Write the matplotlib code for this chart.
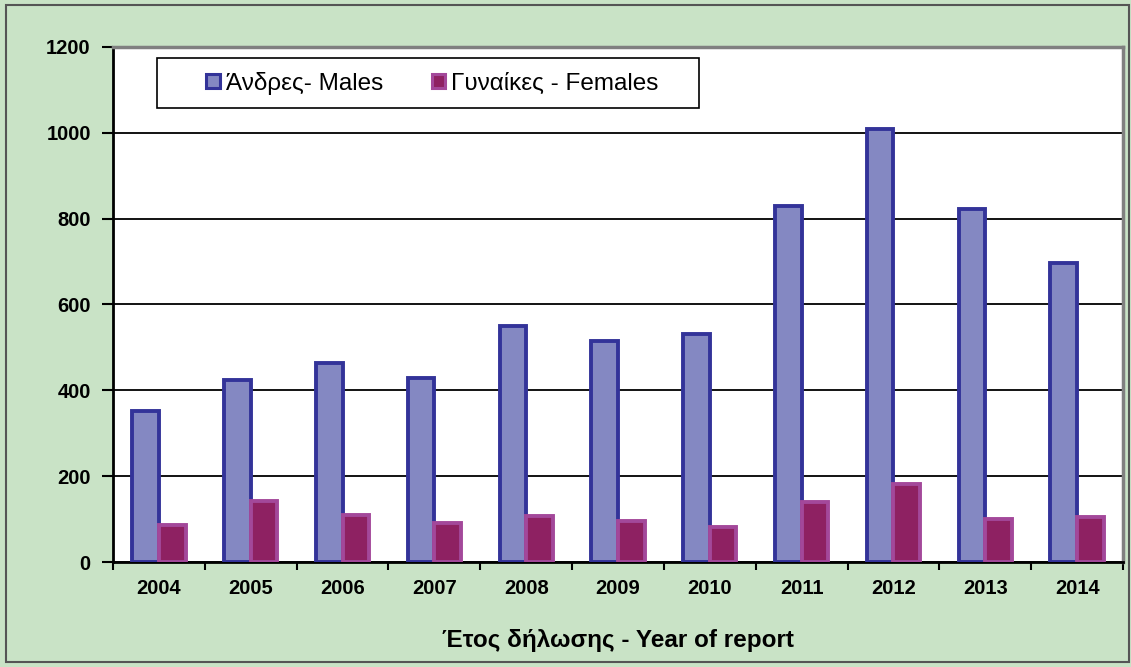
import matplotlib
matplotlib.use("Agg")
import matplotlib.pyplot as plt
import matplotlib.patches as mpatches
import numpy as np

years = ["2004", "2005", "2006", "2007", "2008", "2009", "2010", "2011", "2012", "2013", "2014"]
males = [352, 424, 463, 428, 551, 516, 531, 830, 1009, 822, 696]
females = [87, 141, 110, 92, 107, 95, 81, 139, 181, 101, 106]
series_names = ["Άνδρες- Males", "Γυναίκες - Females"]
x_label = "Έτος δήλωσης - Year of report"
y_ticks = [0, 200, 400, 600, 800, 1000, 1200]

male_fill, male_edge = "#8488C2", "#333399"
fem_fill, fem_edge = "#8E2162", "#A3489A"
bg = "#C9E3C6"

reg = ["Liberation Sans", "DejaVu Sans"]

fig = plt.figure(figsize=(11.31, 6.67), dpi=100, facecolor=bg)
fig.patches.append(mpatches.Rectangle((6/1131, 5/667), 1123/1131, 657/667, transform=fig.transFigure,
                                      facecolor="none", edgecolor="#555555", linewidth=1.5))
ax = fig.add_axes([113/1131, 105/667, 1010/1131, 515/667])
ax.set_facecolor("white")

x = np.arange(len(years))
w = 0.29
ax.bar(x - w/2, males, width=w, color=male_fill, edgecolor=male_edge, linewidth=2.8, zorder=3)
ax.bar(x + w/2, females, width=w, color=fem_fill, edgecolor=fem_edge, linewidth=2.8, zorder=3)

ax.set_xlim(-0.5, len(years) - 0.5)
ax.set_ylim(0, 1200)
ax.set_yticks(y_ticks)
ax.set_yticklabels([str(v) for v in y_ticks], fontfamily=reg, fontweight="bold", fontsize=14.5)
ax.yaxis.grid(True, color="black", linewidth=1.3, zorder=0)
ax.set_axisbelow(True)

ax.set_xticks(np.arange(len(years) + 1) - 0.5)
ax.set_xticklabels([])
ax.set_xticks(x, minor=True)
ax.set_xticklabels(years, minor=True, fontfamily=reg, fontweight="bold", fontsize=14.5)
ax.tick_params(axis="x", which="minor", length=0, pad=12)
ax.tick_params(axis="x", which="major", length=6, width=1.5, direction="out")
ax.tick_params(axis="y", length=8, width=1.5, direction="out", pad=8)

for s in ["left", "bottom"]:
    ax.spines[s].set_color("black")
    ax.spines[s].set_linewidth(2)
for s in ["top", "right"]:
    ax.spines[s].set_color("#808080")
    ax.spines[s].set_linewidth(2.5)

fig.text(618/1131, 1 - 640/667, x_label, ha="center", va="center",
         fontfamily=reg, fontweight="bold", fontsize=17.5)

# legend frame
ax.add_patch(mpatches.Rectangle((0.0436, 0.8816), 0.537, 0.097, transform=ax.transAxes,
                                facecolor="white", edgecolor="black", linewidth=1.2, zorder=4))
handles = [mpatches.Rectangle((0, 0), 1, 1, facecolor=male_fill, edgecolor=male_edge, linewidth=2.2),
           mpatches.Rectangle((0, 0), 1, 1, facecolor=fem_fill, edgecolor=fem_edge, linewidth=2.2)]
leg = ax.legend(handles, series_names, loc="center", ncol=2,
                bbox_to_anchor=(0.3163, 0.930),
                frameon=False, prop={"family": reg, "size": 17.5},
                handlelength=0.55, handleheight=0.55,
                handletextpad=0.25, columnspacing=2.0, borderpad=0.2)
leg.set_zorder(5)

fig.savefig("out.png", dpi=100, facecolor=bg)
